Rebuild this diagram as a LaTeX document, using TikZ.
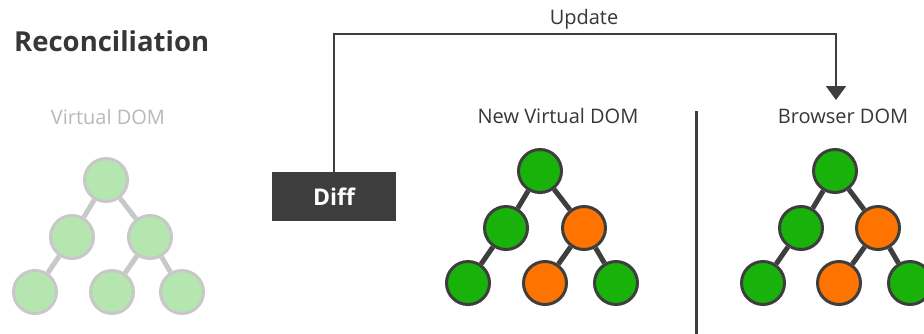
\documentclass[tikz,border=0pt]{standalone}
\usepackage{fontspec}
\setmainfont{Open Sans}
\usetikzlibrary{arrows.meta}
\definecolor{vgreen}{RGB}{24,178,10}
\definecolor{vorange}{RGB}{255,115,0}
\definecolor{vdark}{RGB}{62,62,62}
\definecolor{lgreen}{RGB}{181,230,176}
\definecolor{lgray}{RGB}{200,200,200}
\definecolor{ltext}{RGB}{185,185,185}
\definecolor{tdark}{RGB}{55,55,55}
\tikzset{
  gnode/.style={circle, minimum size=43pt, inner sep=0pt, line width=3pt, draw=vdark, fill=vgreen},
  onode/.style={gnode, fill=vorange},
  lnode/.style={gnode, draw=lgray, fill=lgreen},
  dedge/.style={line width=5pt, draw=vdark},
  ledge/.style={line width=5pt, draw=lgray},
  label/.style={font=\fontsize{20pt}{24pt}\selectfont, text=tdark, inner sep=0pt},
}
\begin{document}
\begin{tikzpicture}[x=1pt, y=-1pt]
\useasboundingbox[fill=white] (0,0) rectangle (924,333);
\clip (0,0) rectangle (924,333);

\node[font=\fontsize{27.5pt}{30pt}\selectfont\bfseries, text=tdark, anchor=west, inner sep=0pt] (title) at (14,41) {Reconciliation};

% left faded tree
\node[label, text=ltext] (vlab) at (108,117) {Virtual DOM};
\node[lnode] (a1) at (106,180) {};
\node[lnode] (a2) at (72,237) {};
\node[lnode] (a3) at (150,237) {};
\node[lnode] (a4) at (35,292) {};
\node[lnode] (a5) at (112,292) {};
\node[lnode] (a6) at (182,292) {};
\draw[ledge] (a1) -- (a2); \draw[ledge] (a1) -- (a3);
\draw[ledge] (a2) -- (a4); \draw[ledge] (a3) -- (a5); \draw[ledge] (a3) -- (a6);

% diff box
\node[fill=vdark, minimum width=124pt, minimum height=49pt, inner sep=0pt,
      text=white, font=\fontsize{23pt}{28pt}\selectfont\bfseries] (diff) at (334,196.5) {Diff};

% update connector
\coordinate (upc) at (836,34);
\coordinate (upend) at (836,100);
\draw[line width=2pt, draw=vdark, -{Triangle[width=20pt,length=14pt]}] (diff.north) |- (upc) -- (upend);
\node[label] (uplab) at (584,19) {Update};

% middle tree
\node[label] (nlab) at (558,116) {New Virtual DOM};
\node[gnode] (b1) at (540,171) {};
\node[gnode] (b2) at (506,228) {};
\node[onode] (b3) at (584,228) {};
\node[gnode] (b4) at (468,283) {};
\node[onode] (b5) at (545,283) {};
\node[gnode] (b6) at (616,283) {};
\draw[dedge] (b1) -- (b2); \draw[dedge] (b1) -- (b3);
\draw[dedge] (b2) -- (b4); \draw[dedge] (b3) -- (b5); \draw[dedge] (b3) -- (b6);

% separator
\coordinate (sept) at (696,111);
\coordinate (sepb) at (696,335);
\draw[line width=3pt, draw=vdark] (sept) -- (sepb);

% right tree
\node[label] (blab) at (843,116) {Browser DOM};
\node[gnode] (c1) at (835,171) {};
\node[gnode] (c2) at (801,228) {};
\node[onode] (c3) at (878,228) {};
\node[gnode] (c4) at (763,283) {};
\node[onode] (c5) at (839,283) {};
\node[gnode] (c6) at (910,283) {};
\draw[dedge] (c1) -- (c2); \draw[dedge] (c1) -- (c3);
\draw[dedge] (c2) -- (c4); \draw[dedge] (c3) -- (c5); \draw[dedge] (c3) -- (c6);
\end{tikzpicture}
\end{document}
